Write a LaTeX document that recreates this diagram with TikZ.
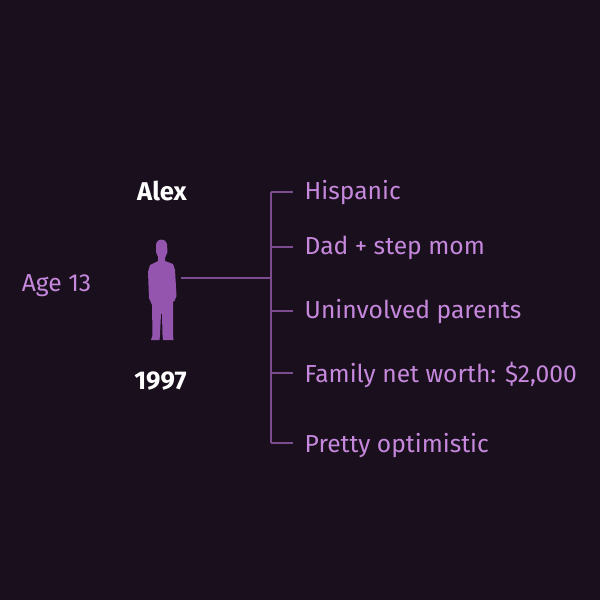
\documentclass[tikz,border=0pt]{standalone}
\usepackage{fontspec}
\setmainfont{Fira Sans}
\definecolor{bgdark}{HTML}{1A0F1C}
\definecolor{lilac}{HTML}{C588DD}
\definecolor{figpurple}{HTML}{9455AE}
\definecolor{linepurple}{HTML}{7D4C90}
\tikzset{
	trait/.style={anchor=west,inner sep=0pt,text=lilac,font=\fontsize{7}{8}\selectfont},
	title/.style={inner sep=0pt,text=white,font=\fontsize{7.3}{8}\selectfont\bfseries},
	branch/.style={draw=linepurple,line width=0.36pt}
}
\begin{document}
\begin{tikzpicture}[x=0.01cm,y=-0.01cm]
	\fill[bgdark] (0,0) rectangle (600,600);
	\useasboundingbox (0,0) rectangle (600,600);
	\node[title] (name) at (162,191) {Alex};
	\node[title] (year) at (160.5,381) {1997};
	\node[trait,anchor=center] (age) at (56.5,286) {Age 13};
	% silhouette
	\fill[figpurple] (156,244) .. controls (157,238) and (166,238) .. (167,244)
		-- (167.5,252) -- (165,258) -- (165,261) -- (173,264) -- (175,270)
		-- (176.5,296) -- (174,302) -- (173,300) -- (173,335)
		-- (173.5,340) -- (163,340) -- (162.5,335) -- (162,314) -- (161,314)
		-- (160,335) -- (159.5,340) -- (151,340) -- (152.5,335) -- (152,305)
		-- (149,298) -- (148,272) -- (150,265) -- (158,261) -- (158,257)
		-- (156,252) -- cycle;
	\coordinate (person) at (181,278);
	\coordinate (hub) at (271,278);
	\coordinate (top) at (271,192);
	\coordinate (bottom) at (271,443);
	\draw[branch] (person) -- (hub);
	\draw[branch] (top) -- (bottom);
	\foreach \nm/\y/\ty/\txt in {hispanic/192/193/Hispanic,parents/247/248/Dad + step mom,uninvolved/311/312/Uninvolved parents,networth/373/375/{Family net worth: \$2,000},optimistic/443/446/Pretty optimistic}{
		\coordinate (tick\nm) at (293,\y);
		\coordinate (stem\nm) at (271,\y);
		\node[trait] (\nm) at (304,\ty) {\txt};
		\draw[branch] (stem\nm) -- (tick\nm);
	}
\end{tikzpicture}
\end{document}
